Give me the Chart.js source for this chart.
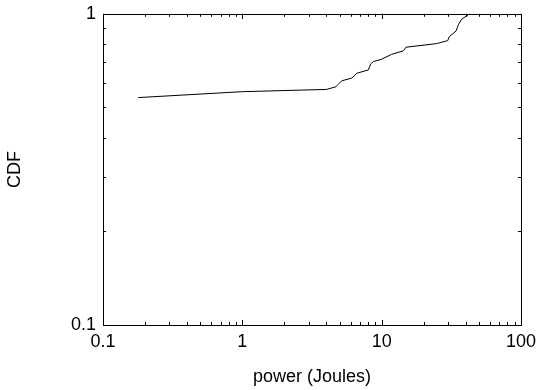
<!DOCTYPE html>
<html>
<head>
<meta charset="utf-8">
<script src="https://cdn.jsdelivr.net/npm/chart.js@4.4.1/dist/chart.umd.min.js"></script>
<style>
  html, body { margin: 0; padding: 0; background: #fff; overflow: hidden; }
  #wrap { width: 542px; height: 394px; position: relative; margin-top: -4px; }
</style>
</head>
<body>
<div id="wrap"><canvas id="chart-cdf"></canvas></div>
<script>
// values
const powerJoules = [0.179, 1.0, 4.03, 4.70, 4.89, 5.17, 6.10, 6.36, 6.62, 8.02, 8.35, 8.71, 10.0, 11.8, 14.3, 14.95, 24.8, 29.8, 30.6, 34.2, 35.5, 37.5, 40.8, 42.6];
const cdfValues   = [0.538, 0.562, 0.5715, 0.583, 0.594, 0.609, 0.6215, 0.632, 0.644, 0.660, 0.690, 0.702, 0.7145, 0.741, 0.760, 0.781, 0.802, 0.820, 0.845, 0.880, 0.9215, 0.961, 0.985, 1.0];
const xDecadeLabels = [0.1, 1, 10, 100];
const yDecadeLabels = [0.1, 1];

const FONT = 'Liberation Sans, Arial, Helvetica, sans-serif';

// frame + inward gnuplot-style ticks on all four sides
const frameTicks = {
  id: 'frameTicks',
  afterDraw(chart) {
    const { ctx, chartArea: a, scales } = chart;
    ctx.save();
    ctx.strokeStyle = '#000';
    ctx.lineWidth = 1;
    ctx.strokeRect(Math.round(a.left) + 0.5, Math.round(a.top) + 0.5,
                   Math.round(a.right - a.left), Math.round(a.bottom - a.top));
    ctx.beginPath();
    const xs = scales.x, ys = scales.y;
    [0.1, 1, 10].forEach(d => {
      for (let m = 1; m <= 10; m++) {
        const v = d * m;
        const px = Math.round(xs.getPixelForValue(v)) + 0.5;
        const len = (m === 1 || m === 10) ? 5 : 3;
        ctx.moveTo(px, a.bottom); ctx.lineTo(px, a.bottom - len);
        ctx.moveTo(px, a.top); ctx.lineTo(px, a.top + len);
      }
    });
    for (let m = 1; m <= 10; m++) {
      const v = 0.1 * m;
      const py = Math.round(ys.getPixelForValue(v)) + 0.5;
      const len = (m === 1 || m === 10) ? 5 : 3;
      ctx.moveTo(a.left, py); ctx.lineTo(a.left + len, py);
      ctx.moveTo(a.right, py); ctx.lineTo(a.right - len, py);
    }
    ctx.stroke();
    ctx.restore();
  }
};

new Chart(document.getElementById('chart-cdf'), {
  type: 'line',
  data: {
    datasets: [{
      data: powerJoules.map((x, i) => ({ x, y: cdfValues[i] })),
      borderColor: '#000',
      borderWidth: 1,
      pointRadius: 0,
      tension: 0,
      fill: false,
    }]
  },
  options: {
    responsive: true,
    maintainAspectRatio: false,
    animation: false,
    layout: { padding: { left: 0, right: 20, top: 10, bottom: 0 } },
    plugins: { legend: { display: false }, tooltip: { enabled: false } },
    scales: {
      x: {
        type: 'logarithmic',
        min: 0.1, max: 100,
        afterFit: s => { s.height = 65; },
        afterBuildTicks: s => { s.ticks = xDecadeLabels.map(v => ({ value: v })); },
        grid: { display: false, drawTicks: false },
        border: { display: false },
        ticks: {
          color: '#000', font: { family: FONT, size: 18 }, padding: 6, maxRotation: 0, autoSkip: false,
          callback: v => String(v)
        },
        title: { display: true, text: 'power (Joules)', color: '#000', font: { family: FONT, size: 18 }, padding: { top: 4, bottom: 2 } }
      },
      y: {
        type: 'logarithmic',
        min: 0.1, max: 1,
        afterFit: s => { s.width = 103; },
        afterBuildTicks: s => { s.ticks = yDecadeLabels.map(v => ({ value: v })); },
        grid: { display: false, drawTicks: false },
        border: { display: false },
        ticks: {
          color: '#000', font: { family: FONT, size: 18 }, padding: 7, autoSkip: false,
          callback: v => String(v)
        },
        title: { display: true, text: 'CDF', color: '#000', font: { family: FONT, size: 18 }, padding: { top: 4, bottom: 4 } }
      }
    }
  },
  plugins: [frameTicks]
});
</script>
</body>
</html>
